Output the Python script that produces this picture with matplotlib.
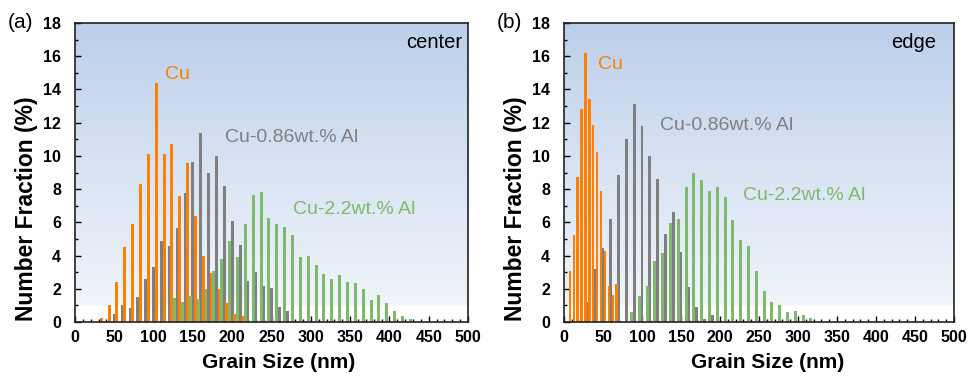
import numpy as np
import matplotlib
matplotlib.use("Agg")
import matplotlib.pyplot as plt
from matplotlib.colors import LinearSegmentedColormap
from matplotlib.ticker import MultipleLocator
from matplotlib import font_manager

# ---------------- data ----------------
# center panel (a)
cu_center_sizes = list(range(30, 220, 10))
cu_center = [0.26, 1.0, 2.4, 4.5, 5.9, 8.3, 10.1, 14.4, 10.1, 10.7, 7.6, 9.6,
             6.4, 4.0, 2.93, 2.0, 1.12, 0.48, 0.38]
al086_center_sizes = list(range(50, 280, 10))
al086_center = [0.46, 1.0, 0.85, 1.5, 2.6, 3.3, 4.9, 4.6, 5.64, 7.77, 9.66, 11.37,
                9.0, 10.0, 8.2, 6.1, 4.64, 2.45, 3.03, 2.19, 2.05, 0.92, 0.64]
al22_center_sizes = list(range(120, 430, 10))
al22_center = [1.43, 1.22, 1.59, 1.41, 1.99, 3.09, 3.8, 4.86, 3.9, 5.9, 7.65, 7.85,
               6.29, 5.88, 5.72, 5.22, 3.92, 3.99, 3.43, 2.89, 2.59, 2.82, 2.39, 2.32,
               1.99, 1.33, 1.65, 1.16, 0.66, 0.36, 0.18]

# edge panel (b)
cu_edge_sizes = list(range(5, 70, 5))
cu_edge = [3.1, 5.24, 8.73, 12.82, 16.2, 13.4, 11.86, 10.23, 7.88, 4.28, 2.18, 1.63, 2.3]
al086_edge_sizes = list(range(30, 200, 10))
al086_edge = [1.2, 3.22, 4.48, 6.18, 8.84, 11.0, 13.1, 11.8, 10.0, 8.6, 5.3, 6.6,
              4.2, 2.13, 0.89, 0.16, 0.4]
al22_edge_sizes = list(range(80, 320, 10))
al22_edge = [0.6, 1.57, 2.17, 3.65, 4.18, 5.94, 6.18, 8.13, 8.94, 8.53, 7.87, 8.13,
             7.53, 6.13, 4.94, 4.6, 3.07, 1.89, 1.18, 1.0, 0.62, 0.66, 0.42, 0.22]

series_names = ["Cu", "Cu-0.86wt.% Al", "Cu-2.2wt.% Al"]
panel_tags = ["(a)", "(b)"]
panel_names = ["center", "edge"]
x_ticks = [0, 50, 100, 150, 200, 250, 300, 350, 400, 450, 500]
y_ticks = [0, 2, 4, 6, 8, 10, 12, 14, 16, 18]

# ---------------- style ----------------
C_CU = "#ff7f00"
C_086 = "#7f7f7f"
C_22 = "#7dba6c"

avail = {f.name for f in font_manager.fontManager.ttflist}
BASE = "Liberation Sans" if "Liberation Sans" in avail else "DejaVu Sans"
plt.rcParams["font.family"] = [BASE, "DejaVu Sans"]

W, H = 969, 380
fig = plt.figure(figsize=(W / 100, H / 100), dpi=100)

def px_axes(x0, x1, y_top, y_bot):
    return fig.add_axes([x0 / W, (H - y_bot) / H, (x1 - x0) / W, (y_bot - y_top) / H])

ax_a = px_axes(75, 468, 23, 322)
ax_b = px_axes(564, 954, 23, 322)

grad_cmap = LinearSegmentedColormap.from_list(
    "bg", [(0.0, "#ffffff"), (0.05, "#ffffff"), (0.056, "#f0f4fa"),
           (0.5, "#d9e4f3"), (1.0, "#bccfea")])

def decorate(ax, tag, name, name_x, txt_pos, xlab_x, ylab_x):
    grad = np.linspace(0, 1, 400).reshape(-1, 1)
    ax.imshow(grad, extent=[0, 500, 0, 18], origin="lower", aspect="auto",
              cmap=grad_cmap, zorder=0, interpolation="bilinear")
    ax.set_xlim(0, 500)
    ax.set_ylim(0, 18)
    ax.set_xticks(x_ticks)
    ax.set_yticks(y_ticks)
    ax.xaxis.set_minor_locator(MultipleLocator(10))
    ax.yaxis.set_minor_locator(MultipleLocator(1))
    ax.tick_params(which="both", direction="in", top=False, right=False,
                   width=1.0, colors="black")
    ax.tick_params(axis="x", which="major", length=4.5, pad=6)
    ax.tick_params(axis="y", which="major", length=4.5, pad=10)
    ax.tick_params(which="minor", length=2.5)
    for lab in ax.get_xticklabels() + ax.get_yticklabels():
        lab.set_fontweight("bold")
        lab.set_fontsize(11.5)
    for s in ax.spines.values():
        s.set_linewidth(1.2)
        s.set_color("#222222")
    ax.set_xlabel("Grain Size (nm)", fontsize=15, fontweight="bold")
    ax.xaxis.set_label_coords(xlab_x, -0.105)
    ax.xaxis.label.set_va("top")
    ax.set_ylabel("Number Fraction (%)", fontsize=16.5, fontweight="bold")
    ax.yaxis.set_label_coords(ylab_x, 0.38)
    ax.text(name_x, 0.965, name, transform=ax.transAxes, ha="right", va="top",
            fontsize=14.5, color="black")
    ax.text(-0.172, 1.0, tag, transform=ax.transAxes, ha="left", va="center",
            fontsize=15, color="black")
    for (x, y), nm, c in zip(txt_pos, series_names, [C_CU, C_086, C_22]):
        ax.text(x, y, nm, color=c, fontsize=14, ha="left", va="center")

BW = 3.8
# panel (a)
ax_a.bar(np.array(al086_center_sizes) + 0.0, al086_center, width=BW, color=C_086, zorder=2)
ax_a.bar(np.array(cu_center_sizes) + 3.33, cu_center, width=BW, color=C_CU, zorder=2)
ax_a.bar(np.array(al22_center_sizes) + 6.67, al22_center, width=BW, color=C_22, zorder=2)
decorate(ax_a, panel_tags[0], panel_names[0], 0.985,
         [(114, 14.9), (191, 11.1), (277, 6.8)], 0.518, -0.094)

# panel (b)
ax_b.bar(np.array(al086_edge_sizes) + 0.0, al086_edge, width=BW, color=C_086, zorder=2)
ax_b.bar(np.array(cu_edge_sizes) + 2.5, cu_edge, width=3.0, color=C_CU, zorder=2)
ax_b.bar(np.array(al22_edge_sizes) + 6.5, al22_edge, width=BW, color=C_22, zorder=2)
decorate(ax_b, panel_tags[1], panel_names[1], 0.955,
         [(44, 15.5), (123, 11.8), (230, 7.6)], 0.523, -0.095)

fig.savefig("out.png", dpi=100)
